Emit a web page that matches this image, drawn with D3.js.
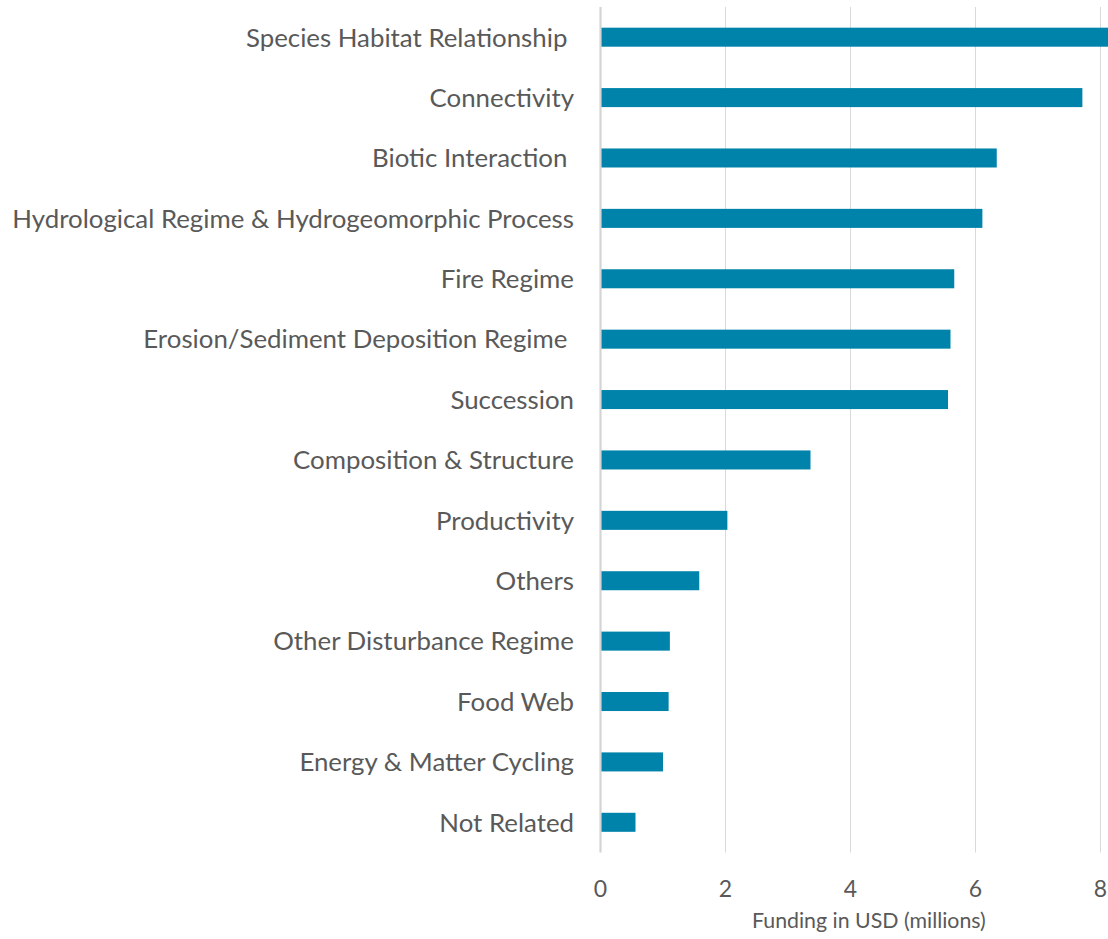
<!DOCTYPE html>
<html>
<head>
<meta charset="utf-8">
<script src="https://cdn.jsdelivr.net/npm/d3@7"></script>
<style>
  html, body { margin: 0; padding: 0; background: #fff; }
  svg { display: block; }
  text { font-family: Lato, "Open Sans", sans-serif; fill: #595959; white-space: pre; }
</style>
</head>
<body>
<script>
const categories = [
  "Species Habitat Relationship ",
  "Connectivity",
  "Biotic Interaction ",
  "Hydrological Regime & Hydrogeomorphic Process",
  "Fire Regime",
  "Erosion/Sediment Deposition Regime ",
  "Succession",
  "Composition & Structure",
  "Productivity",
  "Others",
  "Other Disturbance Regime",
  "Food Web",
  "Energy & Matter Cycling",
  "Not Related"
];
const values = [8.25, 7.71, 6.34, 6.11, 5.66, 5.60, 5.56, 3.36, 2.03, 1.58, 1.11, 1.09, 1.00, 0.56];
const tickValues = [0, 2, 4, 6, 8];
const axisTitle = "Funding in USD (millions)";

const W = 1108, H = 939;
const svg = d3.select("body").append("svg").attr("width", W).attr("height", H);

const x = d3.scaleLinear().domain([0, 8]).range([600.5, 1100.5]);
const y = d3.scaleBand().domain(categories).range([7, 852.5]).paddingInner(0.685).paddingOuter(0.3425);

// gridlines
svg.append("g").selectAll("line").data(tickValues.filter(d => d !== 0)).join("line")
  .attr("x1", d => x(d)).attr("x2", d => x(d))
  .attr("y1", 7).attr("y2", 852.5)
  .attr("stroke", "#d9d9d9").attr("stroke-width", 1);

// bars
svg.append("g").selectAll("rect").data(categories).join("rect")
  .attr("x", x(0))
  .attr("y", d => y(d))
  .attr("width", (d, i) => x(values[i]) - x(0))
  .attr("height", y.bandwidth())
  .attr("fill", "#0083ab");

// zero axis line
svg.append("line")
  .attr("x1", x(0)).attr("x2", x(0)).attr("y1", 7).attr("y2", 852.5)
  .attr("stroke", "#d4d4d4").attr("stroke-width", 2.2);

// category labels
const labels = svg.append("g").selectAll("text").data(categories).join("text")
  .attr("x", 574)
  .attr("y", d => y(d) + y.bandwidth() / 2)
  .attr("dy", "0.36em")
  .attr("text-anchor", "end")
  .style("font-size", "24px")
  .text(d => d);

// fit label size so the longest label matches reference width
const longest = labels.filter(d => d.startsWith("Hydrological")).node();
const w24 = longest.getComputedTextLength();
const fs = 24 * 562 / w24;
labels.style("font-size", fs + "px");

// tick labels
svg.append("g").selectAll("text").data(tickValues).join("text")
  .attr("x", d => x(d))
  .attr("y", 897)
  .attr("text-anchor", "middle")
  .style("font-size", "23px")
  .text(d => d);

// axis title
const title = svg.append("text")
  .attr("x", 752)
  .attr("y", 928)
  .attr("text-anchor", "start")
  .style("font-size", "18px")
  .text(axisTitle);
const tw = title.node().getComputedTextLength();
title.style("font-size", (18 * 234 / tw) + "px");
</script>
</body>
</html>
